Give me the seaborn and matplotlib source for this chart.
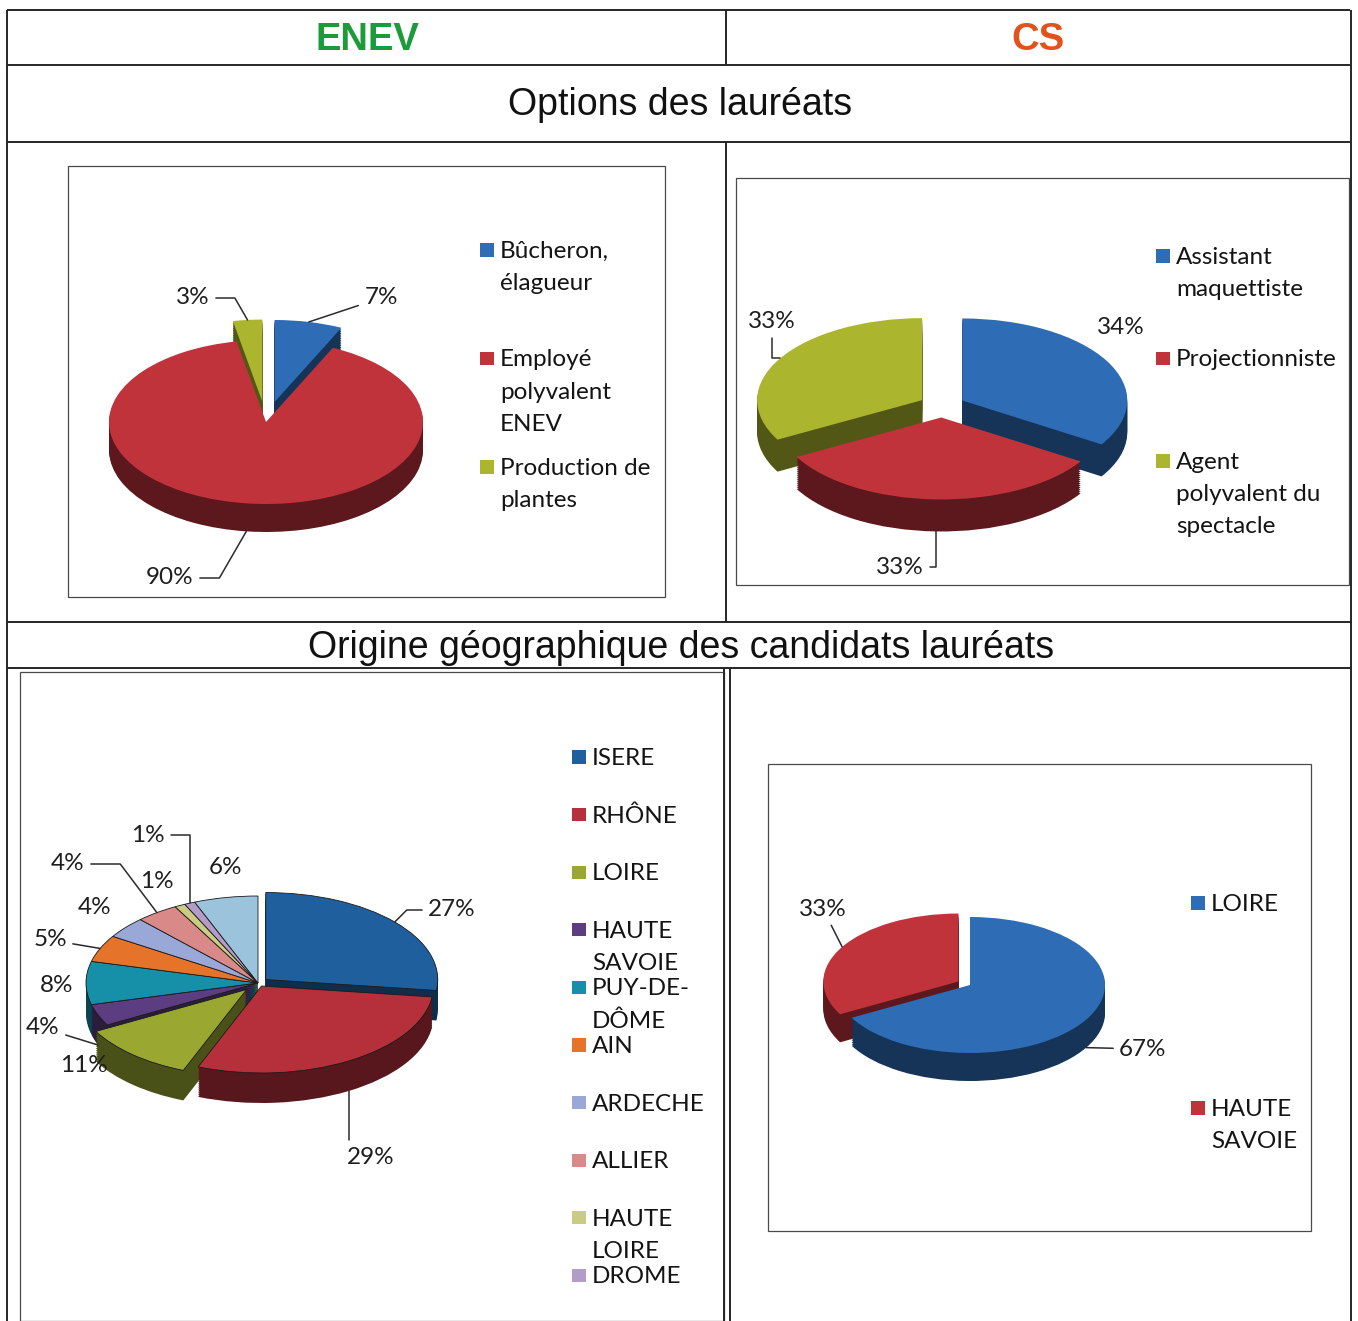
import numpy as np
import matplotlib
matplotlib.use("Agg")
import matplotlib.pyplot as plt
import matplotlib.colors as mcolors
import seaborn as sns

W, H = 1358, 1321

enev_options = ["Bûcheron,\nélagueur", "Employé\npolyvalent\nENEV", "Production de\nplantes"]
enev_options_pct = [7, 90, 3]

cs_options = ["Assistant\nmaquettiste", "Projectionniste", "Agent\npolyvalent du\nspectacle"]
cs_options_pct = [34, 33, 33]

# the last legend entry is cut off by the bottom of the scan
enev_origin = ["ISERE", "RHÔNE", "LOIRE", "HAUTE\nSAVOIE", "PUY-DE-\nDÔME", "AIN",
               "ARDECHE", "ALLIER", "HAUTE\nLOIRE", "DROME", "AUTRES"]
enev_origin_pct = [27, 29, 11, 4, 8, 5, 4, 4, 1, 1, 6]

cs_origin = ["LOIRE", "HAUTE\nSAVOIE"]
cs_origin_pct = [67, 33]

blue, red, green = "#2e6cb5", "#c0333b", "#abb52d"
origin_colors = ["#1f5f9e", "#b5303a", "#9aa832", "#5c3d82", "#1590a8", "#e6732a",
                 "#9aa8d8", "#d98a88", "#c9cc82", "#b39cc8", "#9cc3dc"]

sns.set_theme(style="white")
plt.rcParams["font.family"] = ["Lato", "DejaVu Sans"]

fig = plt.figure(figsize=(W / 100, H / 100), dpi=100)
fig.patch.set_facecolor("white")

# overlay in pixel units (y down) for the table, titles and legends
grid = fig.add_axes([0, 0, 1, 1])
grid.set_xlim(0, W)
grid.set_ylim(H, 0)
grid.axis("off")

line_kw = dict(color="#262626", lw=1.4, solid_capstyle="butt")
for y, x0, x1 in [(10, 7, 1350), (65, 7, 1350), (142, 7, 1350), (622, 7, 1352), (668, 7, 1352)]:
    grid.plot([x0, x1], [y, y], **line_kw)
for x, y0, y1 in [(7, 10, 1321), (726, 10, 65), (726, 142, 622), (724, 668, 1321),
                  (730, 668, 1321), (1351, 10, 1321)]:
    grid.plot([x, x], [y0, y1], **line_kw)

head = ["Liberation Sans", "DejaVu Sans"]
grid.text(367, 40, "ENEV", color="#1d9a3a", fontsize=27.5, fontweight="bold", family=head,
          ha="center", va="center")
grid.text(1038, 40, "CS", color="#e2521d", fontsize=27.5, fontweight="bold", family=head,
          ha="center", va="center")
grid.text(680, 105, "Options des lauréats", fontsize=27, family=head, ha="center",
          va="center", color="#111111")
grid.text(681, 648, "Origine géographique des candidats lauréats", fontsize=27, family=head,
          ha="center", va="center", color="#111111")

# chart frames
frames = {"enev_opt": (68, 166, 665, 597), "cs_opt": (736, 178, 1349, 585),
          "enev_org": (20, 672, 724, 1321), "cs_org": (768, 764, 1311, 1231)}
for x0, y0, x1, y1 in frames.values():
    grid.add_patch(plt.Rectangle((x0, y0), x1 - x0, y1 - y0, fill=False,
                                 ec="#4a4a4a", lw=0.9))


def shade(c, f):
    return tuple(np.array(mcolors.to_rgb(c)) * f)


def pie3d(box, centre, radii, depth, values, colors, explode, edge=0.0):
    x0, y0, x1, y1 = box
    cx, cy = centre
    rx, ry = radii
    ax = fig.add_axes([x0 / W, 1 - y1 / H, (x1 - x0) / W, (y1 - y0) / H])
    ax.patch.set_alpha(0)
    walls = [shade(c, 0.48) for c in colors]
    steps = 16
    for k in range(steps, 0, -1):
        ax.pie(values, colors=walls, explode=explode, startangle=90, counterclock=False,
               center=(0, -depth / ry * k / steps), wedgeprops=dict(linewidth=0))
    ax.pie(values, colors=colors, explode=explode, startangle=90, counterclock=False,
           wedgeprops=dict(linewidth=edge, edgecolor="#1a1a1a"))
    ax.set_aspect("auto")
    ax.set_xlim((x0 - cx) / rx, (x1 - cx) / rx)
    ax.set_ylim((cy - y1) / ry, (cy - y0) / ry)
    ax.axis("off")
    return ax


def pct_labels(ax, values, explode, depth, ry, spots, links):
    v = np.asarray(values, float)
    mid = np.cumsum(v) - v / 2
    theta = np.deg2rad(90 - 360 * mid / v.sum())
    r = 1 + np.asarray(explode, float)
    xs = r * np.cos(theta)
    ys = r * np.sin(theta) - np.where(np.sin(theta) < -0.3, depth / ry, 0)
    for val, x, y, spot, link in zip(values, xs, ys, spots, links):
        props = None
        if link is not None:
            props = dict(arrowstyle="-", color="#2b2b2b", lw=1.1, shrinkA=2, shrinkB=0,
                         connectionstyle=link)
        ax.annotate(f"{val}%", xy=(x, y), xytext=spot, textcoords=grid.transData,
                    ha="center", va="center", fontsize=17.5, color="#1e1e1e",
                    arrowprops=props, annotation_clip=False)


def legend_block(x, y0, pitch, labels, colors):
    for i, (lab, col) in enumerate(zip(labels, colors)):
        y = y0 + pitch * i
        if y > H - 12:
            break
        grid.scatter([x], [y], marker="s", s=90, color=col, edgecolor="none")
        grid.text(x + 13, y - 9, lab, fontsize=17.5, va="top", ha="left",
                  color="#141414", linespacing=1.65)


# ENEV - options
ex = [0.25, 0, 0.25]
ax = pie3d(frames["enev_opt"], (266, 422), (157, 82), 28, enev_options_pct,
           [blue, red, green], ex)
pct_labels(ax, enev_options_pct, ex, 28, 82, [(381, 298), (170, 578), (193, 298)],
           ["arc3", "angle,angleA=0,angleB=60", "angle,angleA=0,angleB=-60"])
legend_block(487, 250, 108.5, enev_options, [blue, red, green])

# CS - options
ex = [0.14, 0.14, 0.14]
ax = pie3d(frames["cs_opt"], (942, 406), (165, 82), 32, cs_options_pct,
           [blue, red, green], ex)
pct_labels(ax, cs_options_pct, ex, 32, 82, [(1121, 327), (900, 567), (772, 321)],
           [None, "angle,angleA=0,angleB=90", "angle,angleA=90,angleB=0"])
legend_block(1163, 256, 102.5, cs_options, [blue, red, green])

# ENEV - origin
ex = [0.06, 0.04, 0.1, 0, 0, 0, 0, 0, 0, 0, 0]
ax = pie3d(frames["enev_org"], (258, 983), (172, 87), 30, enev_origin_pct,
           origin_colors, ex, edge=0.6)
pct_labels(ax, enev_origin_pct, ex, 30, 87,
           [(452, 910), (371, 1157), (84, 1065), (43, 1028), (57, 986), (50, 940),
            (95, 908), (68, 864), (157, 882), (148, 835), (225, 867)],
           ["angle,angleA=0,angleB=45", "angle,angleA=0,angleB=90", None, "arc3", None,
            "arc3", None, "angle,angleA=0,angleB=-53", None, "angle,angleA=0,angleB=90", None])
legend_block(579, 757, 57.6, enev_origin, origin_colors)

# CS - origin
ex = [0, 0.1]
ax = pie3d(frames["cs_org"], (970, 985), (135, 68), 28, cs_origin_pct, [blue, red], ex)
pct_labels(ax, cs_origin_pct, ex, 28, 68, [(1143, 1049), (823, 909)], ["arc3", "arc3"])
legend_block(1198, 903, 205, cs_origin, [blue, red])

fig.savefig("out.png", dpi=100, facecolor="white")
